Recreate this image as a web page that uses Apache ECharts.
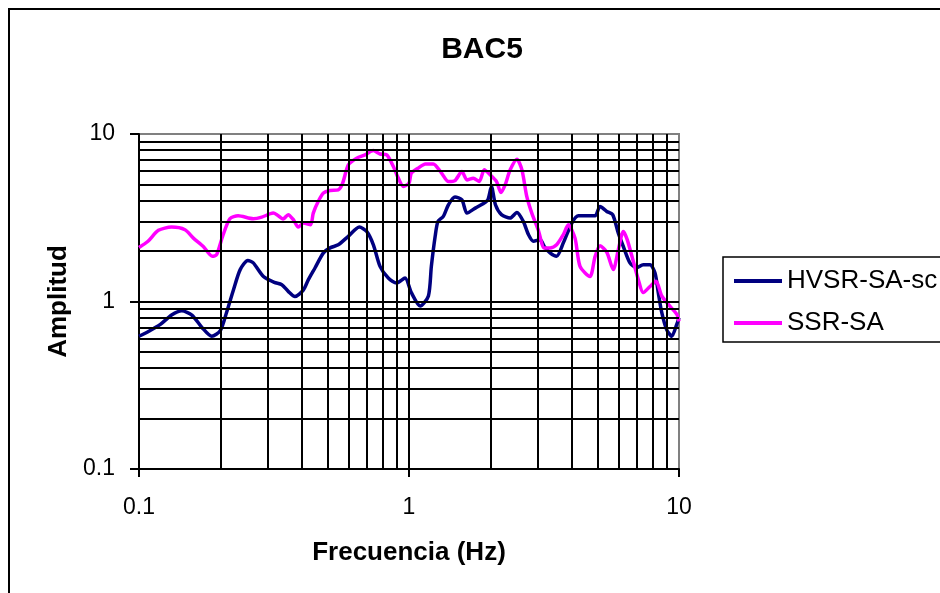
<!DOCTYPE html>
<html>
<head>
<meta charset="utf-8">
<title>BAC5</title>
<script src="https://cdn.jsdelivr.net/npm/echarts@6/dist/echarts.min.js"></script>
<style>
  html, body { margin: 0; padding: 0; background: #fff; }
  #chart { width: 940px; height: 593px; }
</style>
</head>
<body>
<div id="chart"></div>
<script>
// HVSR-SA-sc spectral ratio (frequency in Hz, amplitude)
const hvsrFreq = [0.1, 0.108, 0.12, 0.132, 0.144, 0.157, 0.171, 0.186, 0.2, 0.211,
  0.224, 0.237, 0.253, 0.265, 0.289, 0.317, 0.338, 0.357, 0.378, 0.406,
  0.424, 0.449, 0.482, 0.51, 0.547, 0.596, 0.655, 0.697, 0.738, 0.781,
  0.838, 0.9, 0.967, 1.02, 1.1, 1.18, 1.21, 1.25, 1.28, 1.34,
  1.4, 1.48, 1.57, 1.64, 1.76, 1.88, 1.96, 2.02, 2.09, 2.2,
  2.37, 2.51, 2.65, 2.77, 2.89, 3.06, 3.17, 3.33, 3.52, 3.73,
  4.01, 4.24, 4.55, 4.89, 5.1, 5.4, 5.68, 5.96, 6.22, 6.58,
  6.97, 7.37, 7.81, 8.15, 8.38, 8.63, 9.0, 9.4, 9.81, 10];
const hvsrAmp = [0.62, 0.66, 0.73, 0.83, 0.88, 0.83, 0.70, 0.62, 0.67, 0.86,
  1.18, 1.55, 1.76, 1.70, 1.41, 1.30, 1.26, 1.15, 1.07, 1.17,
  1.35, 1.59, 1.95, 2.09, 2.18, 2.45, 2.78, 2.62, 2.18, 1.62,
  1.38, 1.29, 1.38, 1.13, 0.94, 1.08, 1.62, 2.45, 3.01, 3.22,
  3.78, 4.20, 4.05, 3.37, 3.61, 3.83, 4.05, 4.86, 3.78, 3.30,
  3.15, 3.40, 3.01, 2.51, 2.29, 2.34, 2.13, 1.95, 1.86, 2.24,
  2.94, 3.25, 3.25, 3.25, 3.69, 3.45, 3.30, 2.56, 2.13, 1.70,
  1.59, 1.66, 1.66, 1.48, 1.13, 0.86, 0.68, 0.62, 0.73, 0.80];

// SSR-SA spectral ratio (frequency in Hz, amplitude)
const ssrFreq = [0.1, 0.108, 0.118, 0.132, 0.148, 0.159, 0.173, 0.187, 0.194, 0.204,
  0.217, 0.233, 0.265, 0.285, 0.314, 0.324, 0.342, 0.357, 0.373, 0.389,
  0.406, 0.432, 0.442, 0.461, 0.482, 0.51, 0.547, 0.568, 0.596, 0.64,
  0.687, 0.738, 0.781, 0.827, 0.875, 0.913, 0.953, 1.0, 1.02, 1.08,
  1.15, 1.23, 1.32, 1.4, 1.48, 1.57, 1.64, 1.73, 1.82, 1.9,
  2.0, 2.11, 2.19, 2.27, 2.37, 2.51, 2.62, 2.73, 2.85, 3.01,
  3.17, 3.33, 3.52, 3.73, 3.89, 4.12, 4.3, 4.68, 4.89, 5.1,
  5.4, 5.71, 5.96, 6.22, 6.43, 6.77, 7.07, 7.37, 7.81, 8.22,
  8.63, 9.13, 9.81, 10];
const ssrAmp = [2.10, 2.29, 2.66, 2.78, 2.68, 2.39, 2.13, 1.86, 1.91, 2.45,
  3.12, 3.25, 3.12, 3.19, 3.37, 3.30, 3.11, 3.30, 3.08, 2.78,
  2.94, 2.87, 3.37, 3.95, 4.44, 4.60, 4.64, 5.09, 6.54, 7.17,
  7.50, 7.96, 7.60, 7.50, 6.39, 5.45, 4.86, 5.09, 5.84, 6.25,
  6.63, 6.63, 5.84, 5.20, 5.27, 5.97, 5.32, 5.45, 5.20, 6.11,
  5.70, 5.20, 4.47, 4.97, 6.11, 7.07, 6.11, 4.24, 3.37, 2.68,
  2.09, 2.09, 2.18, 2.51, 2.87, 2.39, 1.62, 1.41, 1.86, 2.15,
  1.97, 1.55, 2.04, 2.62, 2.34, 1.74, 1.35, 1.13, 1.23, 1.32,
  1.08, 0.96, 0.84, 0.76];

// Log-decade grid lines (frequency and amplitude)
const freqGrid = [0.2, 0.3, 0.4, 0.5, 0.6, 0.7, 0.8, 0.9, 1, 2, 3, 4, 5, 6, 7, 8, 9];
const ampGrid = [0.2, 0.3, 0.4, 0.5, 0.6, 0.7, 0.8, 0.9, 1, 2, 3, 4, 5, 6, 7, 8, 9];
const tickLabels = ['0.1', '1', '10'];

const seriesNames = ['HVSR-SA-sc', 'SSR-SA'];
const seriesColors = ['#000080', '#FF00FF'];
const FONT = '"Liberation Sans", Arial, sans-serif';

function zip(xs, ys) { return xs.map((x, i) => [x, ys[i]]); }
function fmtTick(v) {
  const e = Math.round(Math.log10(v));
  return tickLabels[e + 1];
}

const chart = echarts.init(document.getElementById('chart'), null, { renderer: 'canvas' });

chart.setOption({
  animation: false,
  backgroundColor: '#fff',
  textStyle: { fontFamily: FONT },
  graphic: [
    { type: 'rect', shape: { x: 9, y: 9, width: 1000, height: 700 },
      style: { fill: 'none', stroke: '#000', lineWidth: 2 }, silent: true },
    { type: 'text', x: 482, y: 50,
      style: { text: 'BAC5', font: 'bold 30px ' + FONT, fill: '#000',
               textAlign: 'center', textVerticalAlign: 'middle' } }
  ],
  grid: { left: 139, top: 134, width: 540, height: 335, show: true,
          borderColor: '#808080', borderWidth: 2, containLabel: false },
  legend: {
    orient: 'vertical', left: 723, top: 257,
    data: seriesNames.map(n => ({ name: n, icon: 'rect' })),
    itemWidth: 48, itemHeight: 4, itemGap: 16,
    padding: [11, 40, 6, 11],
    borderColor: '#000', borderWidth: 1.5,
    textStyle: { fontSize: 26, color: '#000', fontFamily: FONT, lineHeight: 26 }
  },
  xAxis: {
    type: 'log', logBase: 10, min: 0.1, max: 10,
    name: 'Frecuencia (Hz)', nameLocation: 'middle', nameGap: 71,
    nameTextStyle: { fontSize: 26, fontWeight: 'bold', color: '#000', fontFamily: FONT },
    axisLine: { show: true, onZero: false, lineStyle: { color: '#000', width: 2 } },
    axisTick: { show: true, inside: false, length: 8, lineStyle: { color: '#000', width: 2 } },
    axisLabel: { fontSize: 23, color: '#000', margin: 27, fontFamily: FONT, formatter: fmtTick },
    splitLine: { show: false }
  },
  yAxis: {
    type: 'log', logBase: 10, min: 0.1, max: 10,
    name: 'Amplitud', nameLocation: 'middle', nameGap: 67, nameRotate: 90,
    nameTextStyle: { fontSize: 26, fontWeight: 'bold', color: '#000', fontFamily: FONT },
    axisLine: { show: true, onZero: false, lineStyle: { color: '#000', width: 2 } },
    axisTick: { show: true, inside: false, length: 9, lineStyle: { color: '#000', width: 2 } },
    axisLabel: { fontSize: 23, color: '#000', margin: 24, fontFamily: FONT, formatter: fmtTick },
    splitLine: { show: false }
  },
  series: [
    {
      // grid lines at every log-decade subdivision
      type: 'line', name: 'grid', data: [[1, 1]], z: 1,
      showSymbol: false, symbol: 'none', lineStyle: { opacity: 0 },
      silent: true, legendHoverLink: false,
      markLine: {
        silent: true, symbol: ['none', 'none'], animation: false,
        label: { show: false },
        lineStyle: { color: '#000', width: 2, type: 'solid', opacity: 1 },
        emphasis: { disabled: true },
        data: freqGrid.map(v => ({ xAxis: v })).concat(ampGrid.map(v => ({ yAxis: v })))
      }
    },
    {
      type: 'line', name: seriesNames[0], data: zip(hvsrFreq, hvsrAmp), z: 3,
      showSymbol: false, symbol: 'none', smooth: 0.25,
      lineStyle: { color: seriesColors[0], width: 3.5 }, itemStyle: { color: seriesColors[0] }
    },
    {
      type: 'line', name: seriesNames[1], data: zip(ssrFreq, ssrAmp), z: 4,
      showSymbol: false, symbol: 'none', smooth: 0.25,
      lineStyle: { color: seriesColors[1], width: 3.5 }, itemStyle: { color: seriesColors[1] }
    }
  ]
});
</script>
</body>
</html>
